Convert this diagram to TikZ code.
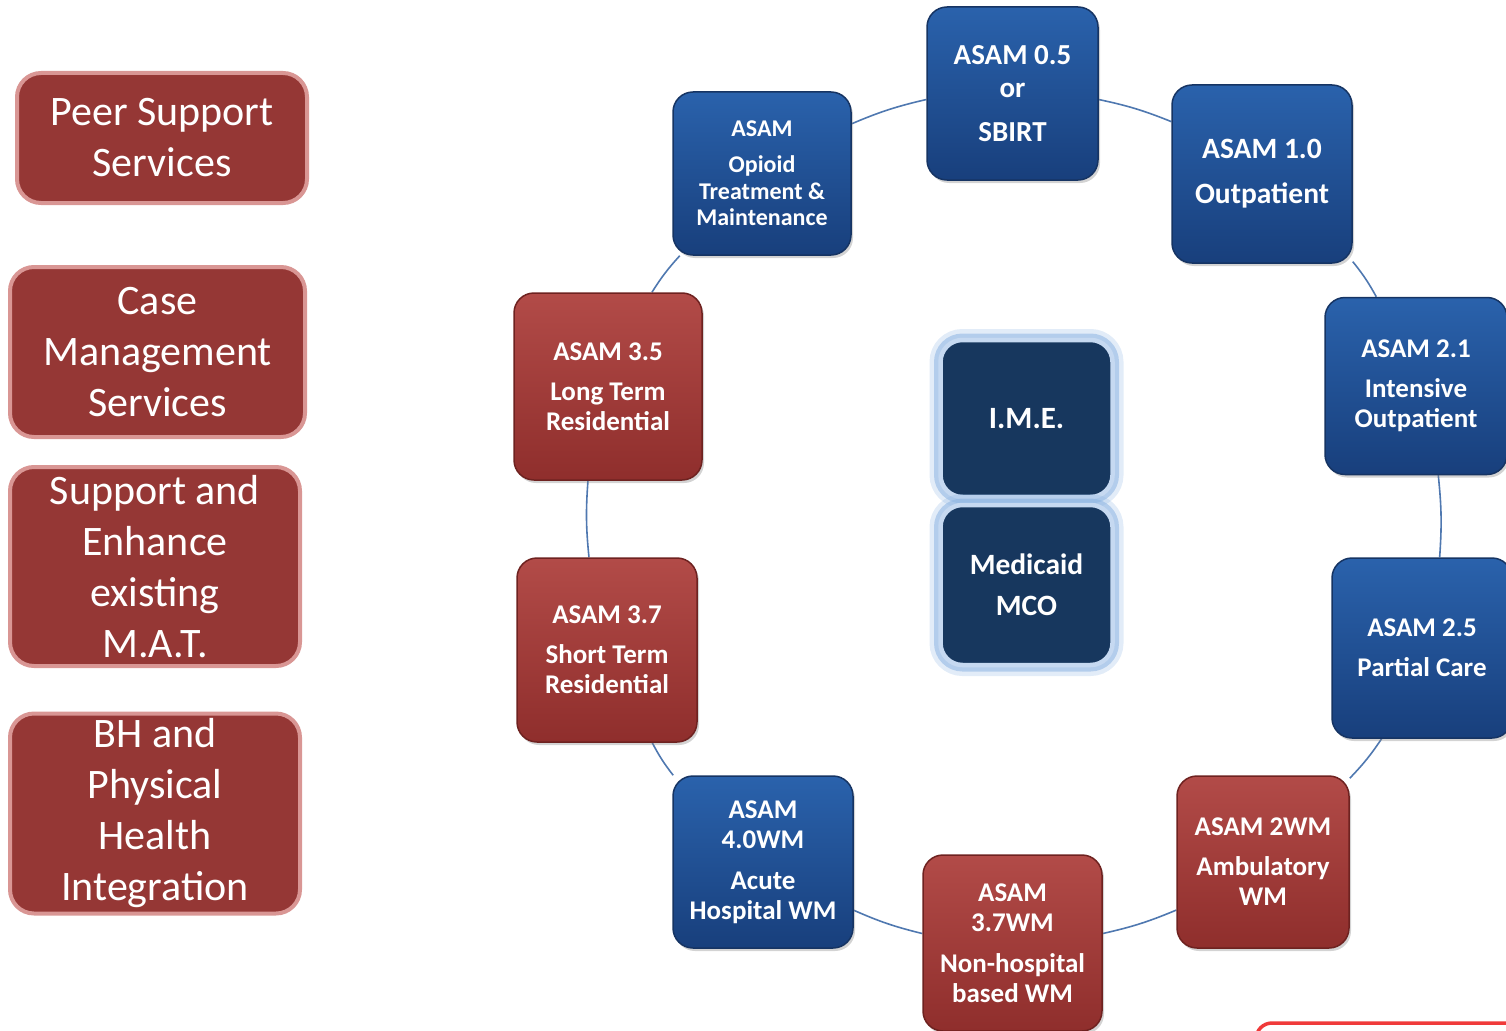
\documentclass[tikz,border=0pt]{standalone}
\usepackage{fontspec}
\setmainfont{Carlito}
\usetikzlibrary{shadows,backgrounds}
\definecolor{leftfill}{HTML}{953735}
\definecolor{leftdraw}{HTML}{D99694}
\definecolor{blueT}{HTML}{2A62AC}
\definecolor{blueB}{HTML}{183F7C}
\definecolor{blueD}{HTML}{163463}
\definecolor{redT}{HTML}{B24B48}
\definecolor{redB}{HTML}{8F2E2C}
\definecolor{redD}{HTML}{6E2220}
\definecolor{navy}{HTML}{17375E}
\definecolor{glowA}{HTML}{8DB4E2}
\definecolor{glowB}{HTML}{C6D9F1}
\definecolor{ringline}{HTML}{4F78B0}
\definecolor{brightred}{HTML}{F03A3A}
\begin{document}
\begin{tikzpicture}[x=1pt,y=-1pt,
  leftbox/.style={draw=leftdraw, line width=4pt, fill=leftfill, rounded corners=24pt,
    text=white, align=center, inner sep=0pt, font=\fontsize{42}{51}\selectfont},
  ringbox/.style={rounded corners=20pt, text=white, align=center, inner sep=0pt,
    line width=1.5pt, drop shadow={shadow xshift=2pt, shadow yshift=-3pt, opacity=0.35},
    font=\fontsize{27}{30}\selectfont\bfseries},
  bluebox/.style={ringbox, top color=blueT, bottom color=blueB, draw=blueD},
  redbox/.style={ringbox, top color=redT, bottom color=redB, draw=redD},
  centerbox/.style={fill=navy, rounded corners=22pt, text=white, align=center, inner sep=0pt,
    draw=glowB, line width=4.5pt,
    preaction={draw=glowA, line width=22pt, opacity=0.25},
    preaction={draw=glowA, line width=13pt, opacity=0.55},
    font=\fontsize{31}{41}\selectfont\bfseries},
  conn/.style={draw=ringline, line width=1.6pt}
]
\useasboundingbox (0,0) rectangle (1506,1030);

% left boxes
\node[leftbox, minimum width=290pt, minimum height=130pt] (lb1) at (162,138) {Peer Support\\Services};
\node[leftbox, minimum width=295pt, minimum height=170pt] (lb2) at (157.5,352) {Case\\Management\\Services};
\node[leftbox, minimum width=290pt, minimum height=199pt] (lb3) at (155,566.5) {Support and\\Enhance\\existing\\M.A.T.};
\node[leftbox, minimum width=290pt, minimum height=200pt] (lb4) at (155,813.5) {BH and\\Physical\\Health\\Integration};

% ring boxes
\node[bluebox, minimum width=171pt, minimum height=173pt, font=\fontsize{29}{33}\selectfont\bfseries] (s05) at (1012.5,93.5) {ASAM 0.5\\or\\[11pt]SBIRT};
\node[bluebox, minimum width=180pt, minimum height=178pt, font=\fontsize{29.5}{33}\selectfont\bfseries] (s10) at (1262,174) {ASAM 1.0\\[12pt]Outpatient};
\node[bluebox, minimum width=182pt, minimum height=177pt] (s21) at (1416,386) {ASAM 2.1\\[10pt]Intensive\\Outpatient};
\node[bluebox, minimum width=180pt, minimum height=180pt] (s25) at (1422,648) {ASAM 2.5\\[10pt]Partial Care};
\node[redbox, minimum width=172pt, minimum height=172pt] (s2wm) at (1263,862) {ASAM 2WM\\[10pt]Ambulatory\\WM};
\node[redbox, minimum width=179pt, minimum height=176pt] (s37wm) at (1012.5,943) {ASAM\\3.7WM\\[11pt]Non-hospital\\based WM};
\node[bluebox, minimum width=180pt, minimum height=172pt] (s40wm) at (763,862) {ASAM\\4.0WM\\[11pt]Acute\\Hospital WM};
\node[redbox, minimum width=180pt, minimum height=184pt] (s37) at (607,650) {ASAM 3.7\\[10pt]Short Term\\Residential};
\node[redbox, minimum width=188pt, minimum height=187pt] (s35) at (608,386.5) {ASAM 3.5\\[10pt]Long Term\\Residential};
\node[bluebox, minimum width=178pt, minimum height=163pt, font=\fontsize{24}{26.5}\selectfont\bfseries] (sop) at (762,173.5) {ASAM\\[9.5pt]Opioid\\Treatment \&\\Maintenance};

% center boxes
\node[centerbox, minimum width=172pt, minimum height=157pt] (ime) at (1026.5,418.5) {I.M.E.};
\node[centerbox, minimum width=172pt, minimum height=160pt, font=\fontsize{29.5}{41}\selectfont\bfseries] (mco) at (1026.5,585) {Medicaid\\MCO};

% ring connectors
\begin{scope}[on background layer]
\draw[conn] (s05.-4) to[bend left=5] (s10.150);
\draw[conn] (s10.-44) to[bend left=5] (s21.114);
\draw[conn] (s21.-76) to[bend left=5] (s25.79);
\draw[conn] (s25.-114) to[bend left=5] (s2wm.44);
\draw[conn] (s2wm.209) to[bend left=5] (s37wm.6);
\draw[conn] (s37wm.174) to[bend left=5] (s40wm.-28);
\draw[conn] (s40wm.136) to[bend left=5] (s37.-64);
\draw[conn] (s37.101) to[bend left=5] (s35.-102);
\draw[conn] (s35.65) to[bend left=5] (sop.225);
\draw[conn] (sop.29) to[bend left=5] (s05.184);
\end{scope}

% partial red outline at bottom right
\draw[brightred, line width=3.5pt, rounded corners=16pt] (1256,1050) -- (1256,1023) -- (1540,1023);
\end{tikzpicture}
\end{document}
